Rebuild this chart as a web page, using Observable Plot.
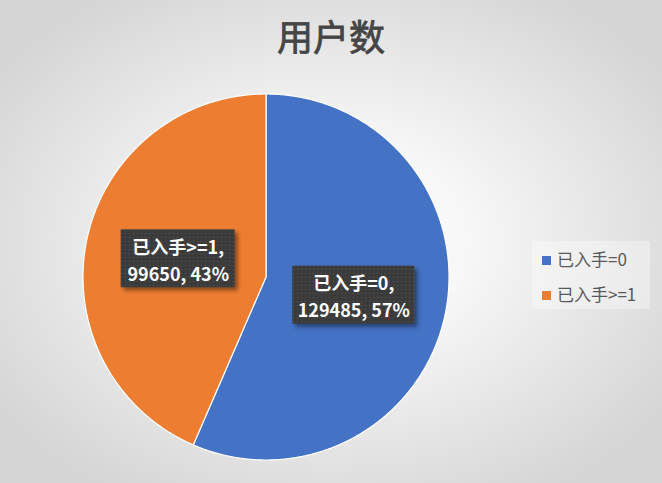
<!DOCTYPE html>
<html><head><meta charset="utf-8">
<script src="https://cdn.jsdelivr.net/npm/d3@7"></script>
<script src="https://cdn.jsdelivr.net/npm/@observablehq/plot@0.6"></script>
<style>
html,body{margin:0;padding:0;}
#wrap{position:relative;width:662px;height:483px;overflow:hidden;
 background:radial-gradient(ellipse 60% 60% at 50% 50%, #ffffff 0%, #f7f7f7 35%, #d6d6d6 100%);
 font-family:"Noto Sans CJK SC","Noto Sans",sans-serif;}
#title{position:absolute;left:0;width:662px;top:14px;text-align:center;font-size:36px;font-weight:normal;color:#454545;-webkit-text-stroke:0.8px #454545;line-height:1.2;}
#legend{position:absolute;left:532px;top:241px;width:118px;height:68px;background:rgba(255,255,255,0.35);}
.li{position:absolute;left:10px;font-size:17px;color:#595959;white-space:nowrap;line-height:20px;}
.sw{display:inline-block;width:9px;height:9px;margin-right:6px;vertical-align:1px;}
svg{position:absolute;left:0;top:0;}
</style></head><body>
<div id="wrap"><div id="title">用户数</div><div id="legend"></div></div>
<script>
const categories = ["已入手=0", "已入手>=1"];
const values = [129485, 99650];
const percents = ["57%", "43%"];
const colors = ["#4472C4", "#ED7D31"];

const W = 662, H = 483, cx = 265.5, cy = 276.5, R = 183;
const total = d3.sum(values);
let acc = 0;
const slices = categories.map((c, i) => {
  const a0 = acc / total * 2 * Math.PI; acc += values[i];
  const a1 = acc / total * 2 * Math.PI;
  return {name: c, a0, a1, value: values[i], pct: percents[i], color: colors[i]};
});
const pts = [];
for (const s of slices) {
  pts.push({name: s.name, x: 0, y: 0});
  const n = Math.ceil((s.a1 - s.a0) / 0.005);
  for (let k = 0; k <= n; k++) {
    const a = s.a0 + (s.a1 - s.a0) * k / n;
    pts.push({name: s.name, x: Math.sin(a), y: Math.cos(a)});
  }
}
const labels = slices.map(s => {
  const m = (s.a0 + s.a1) / 2, r = 0.49;
  return {...s, x: r * Math.sin(m), y: r * Math.cos(m), text: s.name + ",\n" + s.value + ", " + s.pct};
});
const boxW = [122, 114], boxH = 58;
const boxes = labels.map((l, i) => ({x1: l.x - boxW[i] / 2 / R, x2: l.x + boxW[i] / 2 / R, y1: l.y - boxH / 2 / R, y2: l.y + boxH / 2 / R}));

const plot = Plot.plot({
  width: W, height: H, margin: 0,
  x: {domain: [-cx / R, (W - cx) / R], axis: null},
  y: {domain: [(cy - H) / R, cy / R], axis: null},
  color: {domain: categories, range: colors},
  style: {background: "transparent", overflow: "visible"},
  marks: [
    Plot.line(pts, {x: "x", y: "y", z: "name", fill: "name", stroke: "white", strokeWidth: 1.2, curve: "linear-closed"}),
    Plot.rect(boxes, {x1: "x1", x2: "x2", y1: "y1", y2: "y2", fill: "#3b3b3b", className: "lbox"}),
    Plot.text(labels, {x: "x", y: "y", text: "text", fill: "white", fontSize: 18, fontWeight: "bold", lineHeight: 1.5, fontFamily: "'Noto Sans CJK SC', sans-serif"})
  ]
});
const svg = d3.select(plot);
const defs = svg.insert("defs", ":first-child");
const pat = defs.append("pattern").attr("id", "dots").attr("width", 4).attr("height", 4).attr("patternUnits", "userSpaceOnUse");
pat.append("rect").attr("width", 4).attr("height", 4).attr("fill", "#3a3a3a");
pat.append("rect").attr("x", 1).attr("y", 1).attr("width", 1).attr("height", 1).attr("fill", "#565656");
const f = defs.append("filter").attr("id", "sh").attr("x", "-10%").attr("y", "-10%").attr("width", "130%").attr("height", "140%");
f.append("feDropShadow").attr("dx", 3).attr("dy", 3).attr("stdDeviation", 2).attr("flood-color", "#000").attr("flood-opacity", 0.45);
svg.selectAll(".lbox rect").attr("fill", "url(#dots)").attr("filter", "url(#sh)");
document.getElementById("wrap").appendChild(plot);

const lg = d3.select("#legend");
categories.forEach((c, i) => {
  lg.append("div").attr("class", "li").style("top", (8 + i * 35) + "px")
    .html(`<span class="sw" style="background:${colors[i]}"></span>`).append("span").text(c);
});
</script></body></html>
